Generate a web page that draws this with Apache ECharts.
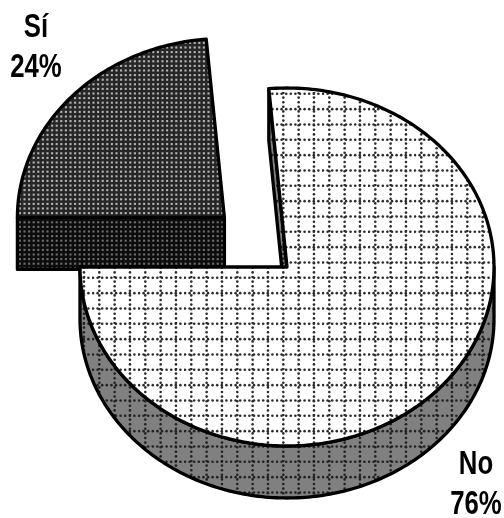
<!DOCTYPE html>
<html>
<head>
<meta charset="utf-8">
<style>html,body{margin:0;padding:0;background:#fff}#c{width:504px;height:518px}</style>
<script src="https://cdn.jsdelivr.net/npm/echarts@6/dist/echarts.min.js"></script>
</head>
<body>
<div id="c"></div>
<script>
const categories = ['Sí', 'No'];
const values = [23.6, 76.4];
const explode = [0.41, 0];
const labelAnchors = [[36, 48], [476, 485]];

const pie = { cx: 287, cy: 267, rx: 207, ry: 179, depth: 52, startAngle: -90 };

function tile(bg, paint) {
  const c = document.createElement('canvas');
  c.width = 46; c.height = 46;
  const g = c.getContext('2d');
  g.fillStyle = bg; g.fillRect(0, 0, 46, 46);
  paint(g);
  return { image: c, repeat: 'repeat' };
}
function dot(g, x, y, r, col) {
  g.fillStyle = col; g.beginPath(); g.arc(x, y, r, 0, Math.PI * 2); g.fill();
}
function gridDots(col, r) {
  return g => {
    const step = 46 / 3, pitch = 46 / 10, ox = 7.3, oy = 1.8;
    for (let k = 0; k < 3; k++) {
      for (let i = 0; i < 10; i++) {
        dot(g, ox + k * step, i * pitch + 1, r, col);
        dot(g, i * pitch + 1, oy + k * step, r, col);
      }
    }
  };
}
function denseDots(col, size) {
  return g => {
    const pitch = 46 / 10;
    g.fillStyle = col;
    for (let i = 0; i < 10; i++) for (let j = 0; j < 10; j++) {
      g.fillRect(i * pitch + 1.5 - size / 2, j * pitch + 1.5 - size / 2, size, size);
    }
  };
}
const fills = {
  top: [tile('#262626', denseDots('#b4b4b4', 2.1)), tile('#ffffff', gridDots('#2c2c2c', 1.3))],
  side: [tile('#0c0c0c', denseDots('#6e6e6e', 2.1)), tile('#808080', gridDots('#222222', 1.3))]
};

const total = values.reduce((a, b) => a + b, 0);
const rad = d => d * Math.PI / 180;

function renderItem(params, api) {
  const i = params.dataIndex;
  let start = pie.startAngle;
  for (let k = 0; k < i; k++) start += values[k] / total * 360;
  const end = start + api.value(1) / total * 360;
  const mid = (start + end) / 2;
  const ox = pie.cx + explode[i] * pie.rx * Math.sin(rad(mid));
  const oy = pie.cy - explode[i] * pie.ry * Math.cos(rad(mid));
  const pt = (a, d) => [ox + pie.rx * Math.sin(rad(a)), oy - pie.ry * Math.cos(rad(a)) + (d || 0)];
  const apex = [ox, oy];
  const apexLow = [ox, oy + pie.depth];
  const line = { stroke: '#000', lineWidth: 3.3, lineJoin: 'round' };
  const poly = (points, fill) => ({
    type: 'polygon', shape: { points }, style: Object.assign({ fill }, line)
  });
  const children = [];

  // radial walls facing the viewer
  if (Math.sin(rad(start)) < 0) {
    children.push(poly([apex, pt(start), pt(start, pie.depth), apexLow], fills.side[i]));
  }
  if (Math.sin(rad(end)) > 0) {
    children.push(poly([apex, pt(end), pt(end, pie.depth), apexLow], fills.side[i]));
  }
  // outer rim: the front half of the ellipse
  for (let shift = -360; shift <= 360; shift += 360) {
    const a0 = Math.max(start, 90 + shift), a1 = Math.min(end, 270 + shift);
    if (a1 > a0) {
      const pts = [];
      for (let a = a0; a <= a1 + 1e-6; a += 1) pts.push(pt(a));
      for (let a = a1; a >= a0 - 1e-6; a -= 1) pts.push(pt(a, pie.depth));
      children.push(poly(pts, fills.side[i]));
    }
  }
  // top face
  const pts = [apex];
  for (let a = start; a < end; a += 1) pts.push(pt(a));
  pts.push(pt(end));
  children.push(poly(pts, fills.top[i]));

  // label: bold type condensed to the reference's narrow face
  children.push({
    type: 'text', z2: 10,
    x: labelAnchors[i][0], y: labelAnchors[i][1], scaleX: 0.78,
    style: {
      x: 0, y: 0,
      text: categories[i] + '\n' + Math.round(api.value(1)) + '%',
      fill: '#000', align: 'center', verticalAlign: 'middle',
      font: 'bold 33px "Liberation Sans", sans-serif',
      lineHeight: 40
    }
  });
  return { type: 'group', children };
}

const chart = echarts.init(document.getElementById('c'), null, { renderer: 'canvas' });
chart.setOption({
  animation: false,
  backgroundColor: '#fff',
  series: [{
    type: 'custom',
    coordinateSystem: 'none',
    renderItem,
    data: categories.map((name, i) => ({ name, value: [i, values[i]] }))
  }]
});
</script>
</body>
</html>
